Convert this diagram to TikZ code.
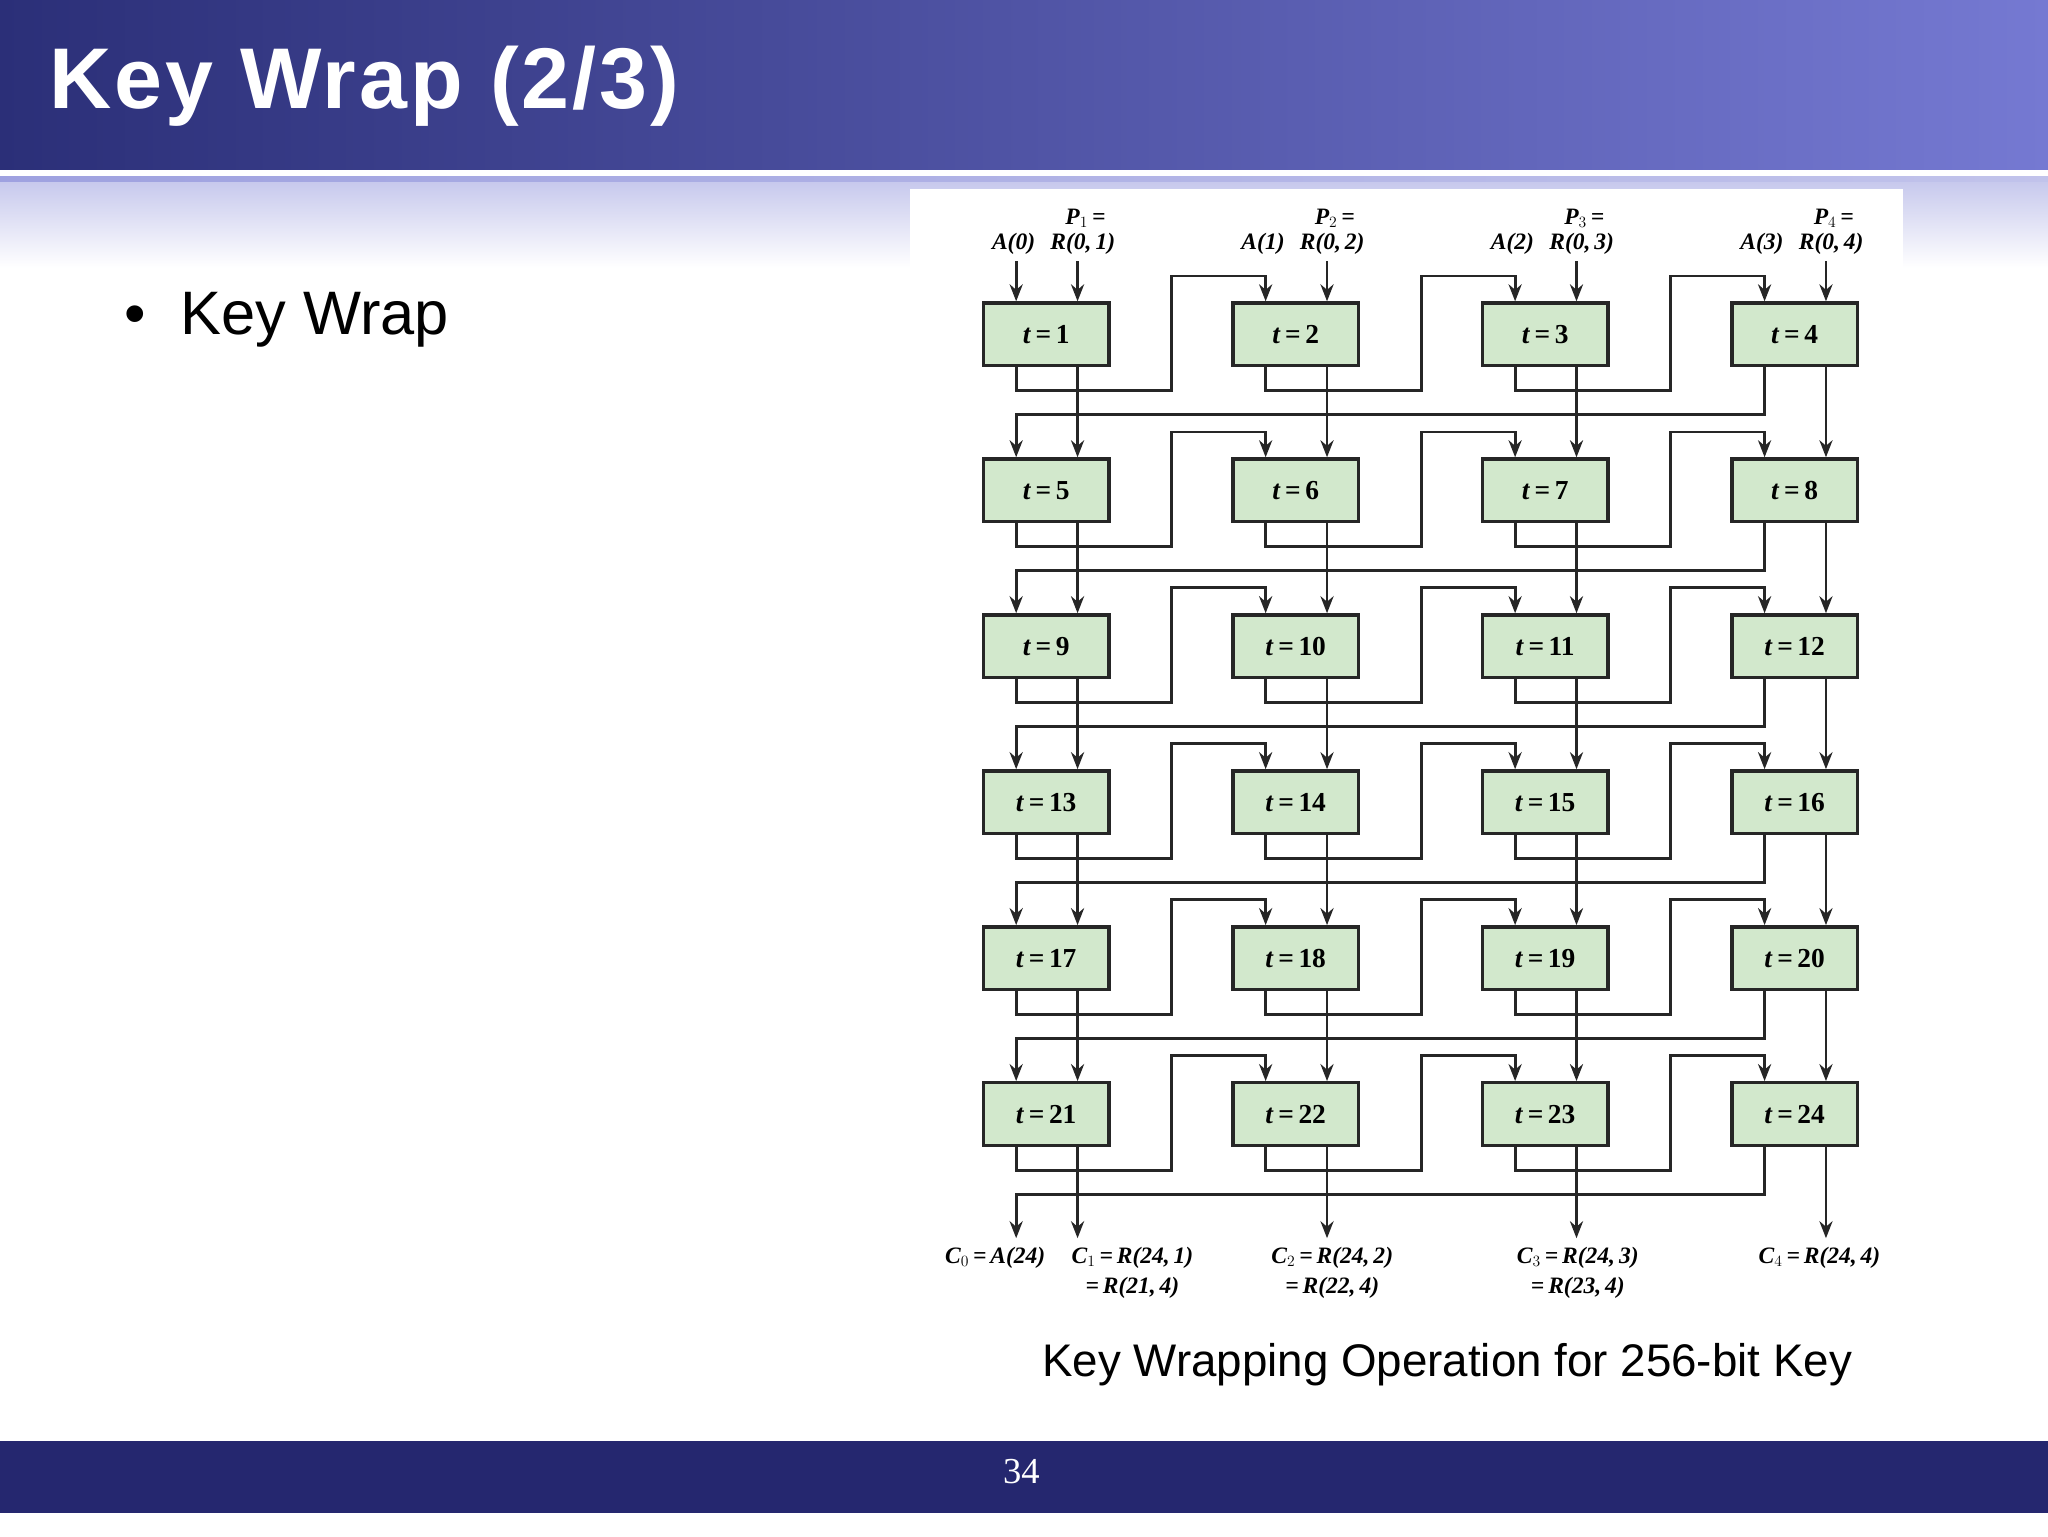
\documentclass[tikz,border=0pt]{standalone}
\usepackage{fontspec}
\setmainfont{Liberation Serif}
\setsansfont{Liberation Sans}
\usetikzlibrary{arrows.meta,calc}
\definecolor{navy}{HTML}{25276F}
\definecolor{navyL}{HTML}{2B2F78}
\definecolor{lav}{HTML}{7579D2}
\definecolor{boxg}{HTML}{D2E8CC}
\begin{document}
\begin{tikzpicture}[x=1pt,y=-1pt,
  box/.style={draw=black!85,line width=2.6pt,fill=boxg,minimum width=96pt,minimum height=48pt,inner sep=0pt,font=\fontsize{21}{22}\selectfont\bfseries},
  arr/.style={line width=2.2pt,draw=black!85,-{Stealth[length=13pt,width=10pt]}},
  lab/.style={font=\fontsize{18}{19}\selectfont\bfseries\itshape,inner sep=0pt}]
\useasboundingbox (0,0) rectangle (1568,1176);
\fill[white] (0,0) rectangle (1568,1176);
% title band
\shade[left color=navyL,right color=lav] (0,0) rectangle (1568,130);
\shade[left color=lav!70,right color=lav!45] (0,135) rectangle (1568,140);
\shade[top color=lav!40,bottom color=white] (0,140) rectangle (1568,205);
\node[anchor=west,text=white,font=\sffamily\bfseries\fontsize{66}{70}\selectfont\addfontfeature{LetterSpace=3.5}] (title) at (34,66) {Key Wrap (2/3)};
\node[anchor=west,font=\sffamily\fontsize{47}{52}\selectfont] (bul) at (92,245) {\textbullet\ \ Key Wrap};
% bottom bar
\fill[navy] (0,1103) rectangle (1568,1158);
\node[text=white,font=\fontsize{28}{30}\selectfont] (pg) at (782,1127) {34};
% diagram panel
\fill[white] (697,145) rectangle (1457,1085);
\foreach \r in {0,...,5}{
 \foreach \c in {0,...,3}{
  \pgfmathtruncatemacro\n{\r*4+\c+1}
  \node[box] (b\n) at ({801+191*\c},{256+119.4*\r}) {\textit{t}\,=\,\n};
 }}
\foreach \c/\cx in {1/801,2/992,3/1183,4/1374}{
  \coordinate (r\c) at (\cx+24,200);
  \node[lab] (p\c) at (\cx+30,167) {P$_{\c}$\,=};
  \node[lab] (rl\c) at (\cx+28,187) {R(0,\,\c)};
  \pgfmathtruncatemacro\k{\c-1}
  \node[lab] (al\c) at (\cx-25,187) {A(\k)};
  \draw[arr] (r\c) -- ([xshift=24pt]b\c.north);
}
\coordinate (a0) at (778,200);
\draw[arr] (a0) -- ([xshift=-23pt]b1.north);
% internal connections
\foreach \r in {0,...,5}{
 \foreach \c in {0,...,3}{
  \pgfmathtruncatemacro\n{\r*4+\c+1}
  \pgfmathtruncatemacro\m{\n+1}
  \pgfmathtruncatemacro\d{\n+4}
  \ifnum\r<5
    \draw[arr] ([xshift=24pt]b\n.south) -- ([xshift=24pt]b\d.north);
  \fi
  \ifnum\c<3
    \draw[arr] ([xshift=-23pt]b\n.south) -- ++(0,-18pt) -- ++(119pt,0) -- ++(0,88pt) -- ++(72pt,0) -- ([xshift=-23pt]b\m.north);
  \else
    \ifnum\r<5
      \draw[arr] ([xshift=-23pt]b\n.south) -- ++(0,-36pt) -| ([xshift=-23pt]b\m.north);
    \fi
  \fi
 }}
% outputs
\coordinate (c0) at (778,948);
\draw[arr] ([xshift=-23pt]b24.south) -- ++(0,-36pt) -| (c0);
\foreach \c/\cx/\n in {1/801/21,2/992/22,3/1183/23,4/1374/24}{
  \coordinate (o\c) at (\cx+24,948);
  \draw[arr] ([xshift=24pt]b\n.south) -- (o\c);
}
\node[lab] (C0) at (762,963) {C$_0$\,=\,A(24)};
\node[lab] (C1) at (867,963) {C$_1$\,=\,R(24,\,1)};
\node[lab] (C1b) at (867,986) {=\,R(21,\,4)};
\node[lab] (C2) at (1020,963) {C$_2$\,=\,R(24,\,2)};
\node[lab] (C2b) at (1020,986) {=\,R(22,\,4)};
\node[lab] (C3) at (1208,963) {C$_3$\,=\,R(24,\,3)};
\node[lab] (C3b) at (1208,986) {=\,R(23,\,4)};
\node[lab] (C4) at (1393,963) {C$_4$\,=\,R(24,\,4)};
\node[font=\sffamily\fontsize{35}{38}\selectfont] (cap) at (1108,1045) {Key Wrapping Operation for 256-bit Key};
\end{tikzpicture}
\end{document}
